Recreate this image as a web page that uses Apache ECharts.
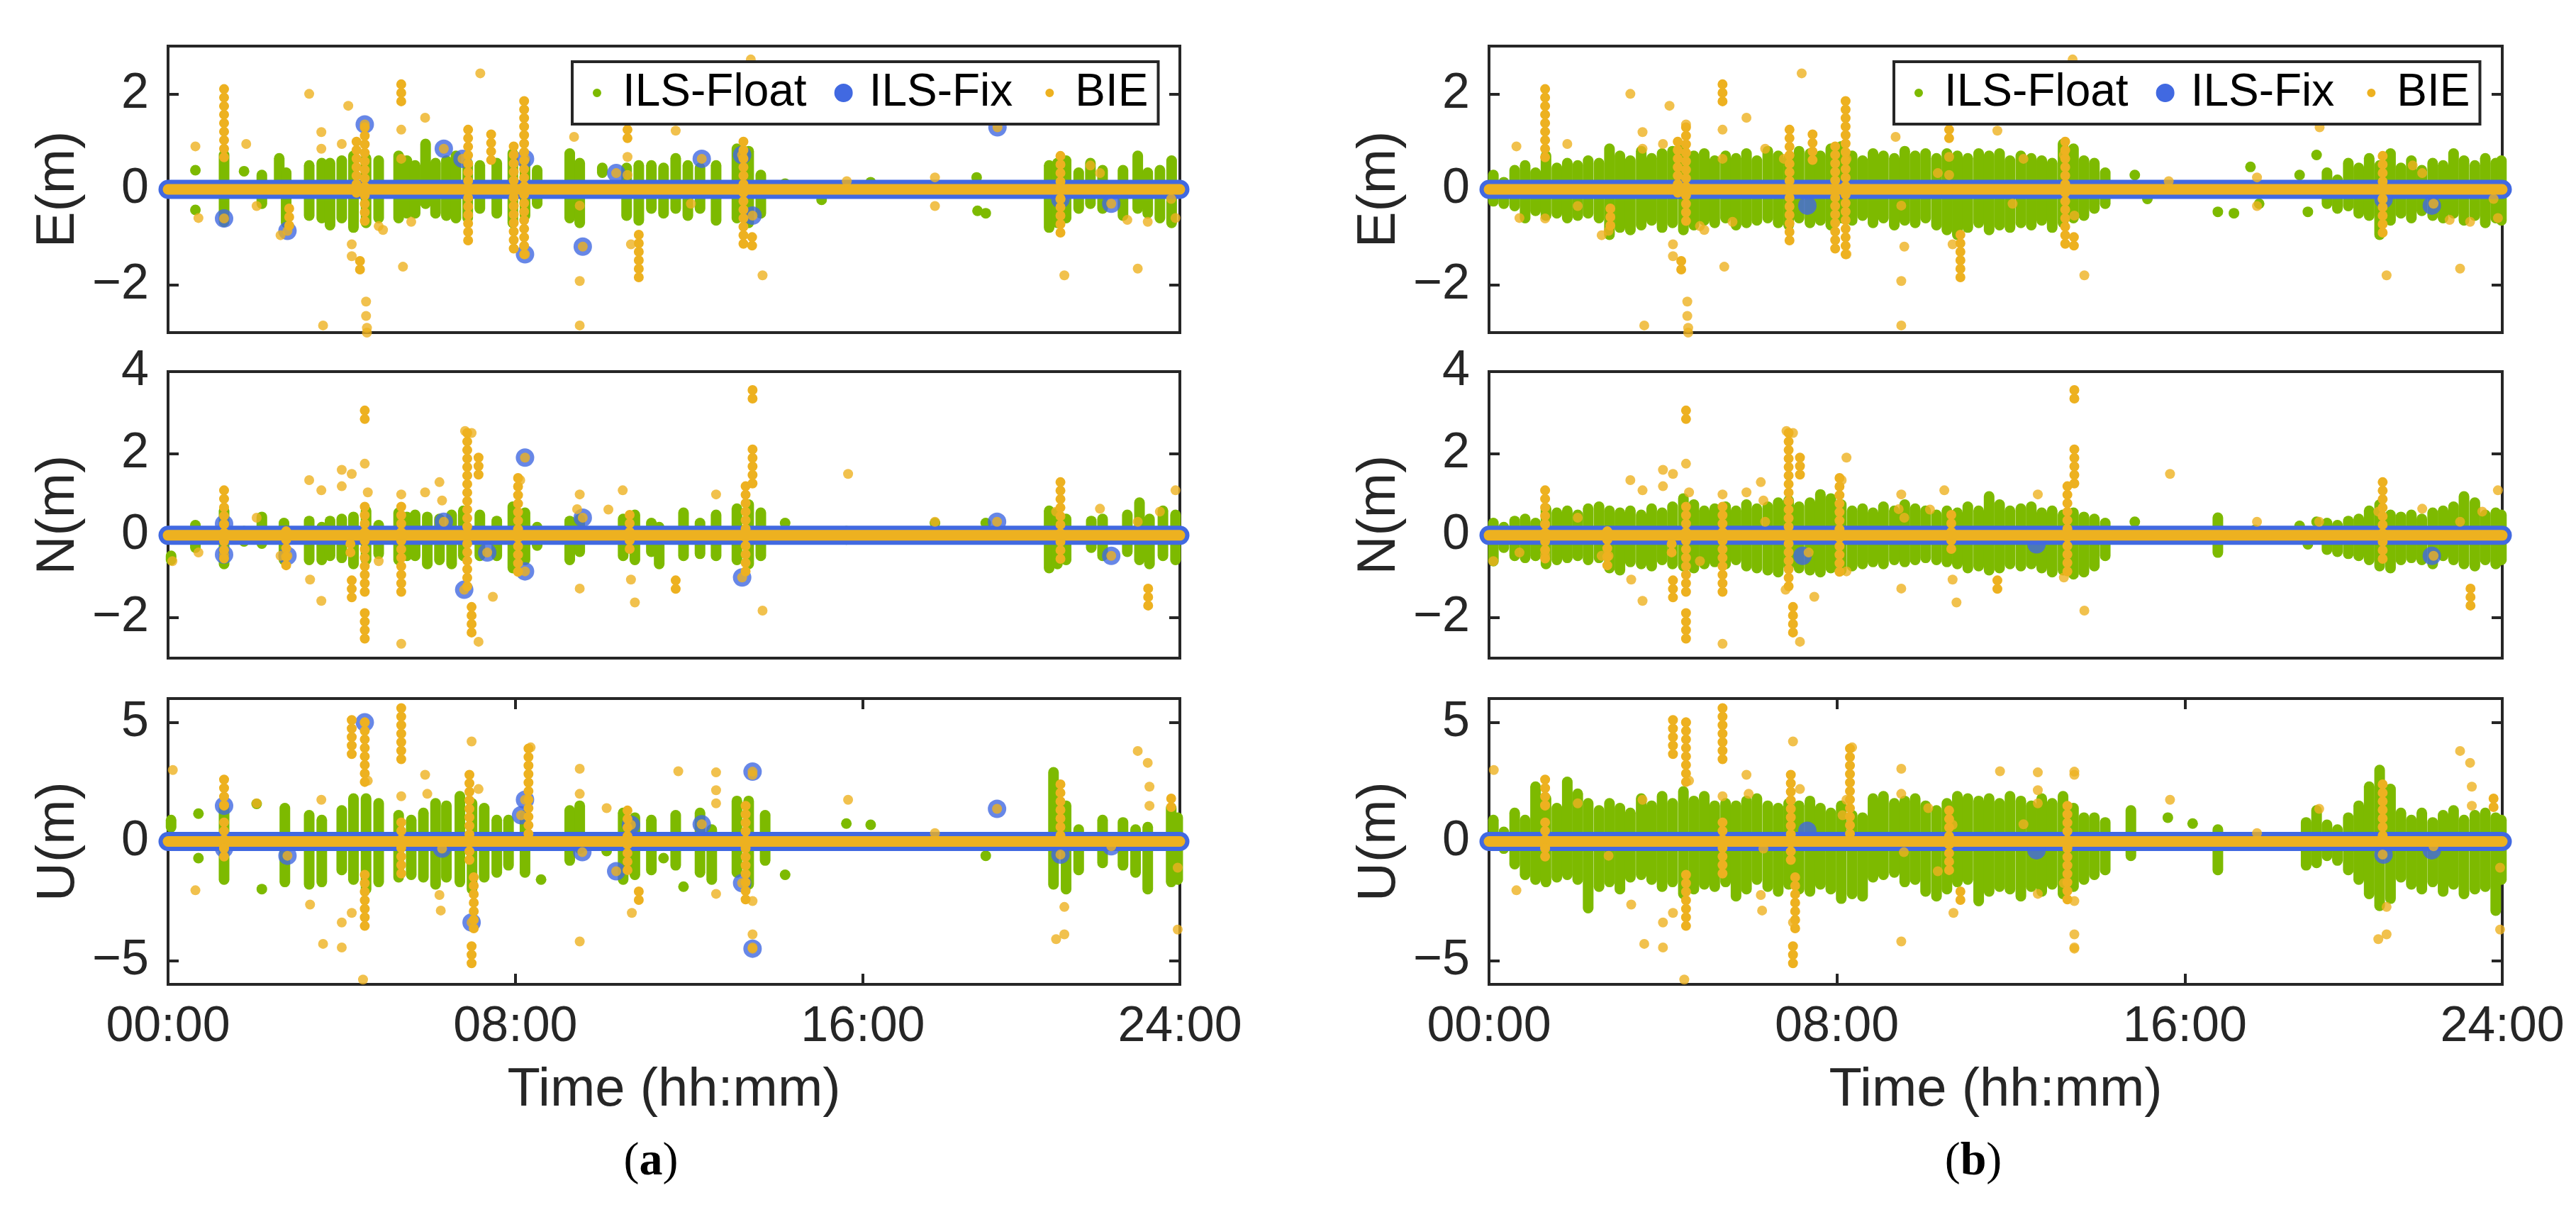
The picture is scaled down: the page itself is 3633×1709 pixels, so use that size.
<!DOCTYPE html>
<html>
<head>
<meta charset="utf-8">
<title>ILS-Float / ILS-Fix / BIE position errors</title>
<script src="https://cdn.jsdelivr.net/npm/echarts@6/dist/echarts.min.js"></script>
<style>
  html, body { margin: 0; padding: 0; background: #fff; }
  #main { width: 3633px; height: 1709px; }
</style>
</head>
<body>
<div id="main"></div>
<script>
// ---------- data: time in hours, errors in metres ----------
var timeTicks = [0, 8, 16, 23.3];
var timeLabels = ['00:00', '08:00', '16:00', '24:00'];
var yTicksE = [-2, 0, 2];
var yTicksN = [-2, 0, 2, 4];
var yTicksU = [-5, 0, 5];

// continuous fixed / BIE solutions sitting on zero
var zeroLine = [[0, 0], [23.3, 0]];

// (a) ILS-Float stacks: [time, low, high]
var floatColsAE = [[0.63,0.4,0.4],[0.63,-0.43,-0.43],[1.29,-0.68,0.72],[1.75,0.38,0.38],[2.16,-0.3,0.3],[2.56,0,0.65],[2.72,-0.7,0.35],[3.25,-0.55,0.5],[3.54,-0.6,0.55],[3.73,-0.75,0.55],[4.0,-0.6,0.6],[4.27,-0.8,0.7],[4.56,-0.7,0.65],[4.85,-0.6,0.6],[5.31,-0.6,0.7],[5.5,-0.5,0.6],[5.69,-0.5,0.5],[5.93,-0.3,0.95],[6.16,-0.5,0.55],[6.41,-0.55,0.6],[6.63,-0.6,0.7],[6.9,-0.6,0.55],[7.18,-0.4,0.5],[7.57,-0.5,0.55],[7.94,-0.7,0.75],[8.22,-0.55,0.6],[8.5,-0.3,0.4],[9.25,-0.6,0.75],[9.48,-0.7,0.55],[10.0,0.35,0.45],[10.56,-0.55,0.45],[10.84,-0.65,0.5],[11.13,-0.4,0.5],[11.41,-0.5,0.45],[11.69,-0.4,0.65],[11.97,-0.55,0.5],[12.25,-0.4,0.45],[12.62,-0.65,0.5],[13.1,-0.6,0.85],[13.37,-0.7,0.8],[13.65,-0.5,0.3],[14.21,0.12,0.12],[15.05,-0.22,-0.22],[16.18,0.15,0.15],[18.62,0.25,0.25],[18.64,-0.45,-0.45],[18.83,-0.5,-0.5],[20.29,-0.8,0.5],[20.48,-0.7,0.55],[20.68,-0.6,0.6],[20.97,-0.4,0.35],[21.24,-0.3,0.55],[21.52,-0.4,0.4],[21.99,-0.55,0.4],[22.33,-0.4,0.7],[22.56,-0.5,0.35],[22.84,-0.6,0.4],[23.11,-0.7,0.6]];
var floatColsAN = [[0.07,-0.6,-0.5],[0.63,-0.3,0.25],[1.29,-0.7,0.6],[1.75,-0.15,0.1],[2.16,-0.2,0.45],[2.67,-0.6,0.3],[3.25,-0.6,0.35],[3.54,-0.6,0.2],[3.73,-0.5,0.35],[4.0,-0.55,0.4],[4.27,-0.7,0.45],[4.56,-0.6,0.6],[4.85,-0.45,0.25],[5.31,-0.6,0.55],[5.5,-0.5,0.45],[5.69,-0.5,0.5],[5.97,-0.7,0.45],[6.25,-0.6,0.4],[6.53,-0.7,0.5],[6.8,-0.5,0.6],[7.18,-0.5,0.5],[7.57,-0.5,0.35],[7.94,-0.8,0.7],[8.22,-0.6,0.55],[8.5,-0.25,0.2],[9.25,-0.6,0.35],[9.48,-0.4,0.4],[10.48,-0.5,0.4],[10.75,-0.6,0.5],[11.13,-0.4,0.3],[11.31,-0.7,0.2],[11.87,-0.5,0.55],[12.25,-0.45,0.3],[12.62,-0.5,0.5],[13.1,-0.6,0.65],[13.37,-0.7,0.75],[13.65,-0.5,0.55],[14.21,0.3,0.3],[15.62,-0.1,0.1],[17.66,0.3,0.3],[18.83,0.3,0.3],[20.29,-0.8,0.6],[20.48,-0.7,0.55],[20.68,-0.6,0.4],[21.26,-0.3,0.35],[21.52,-0.5,0.4],[22.09,-0.4,0.5],[22.37,-0.6,0.8],[22.6,-0.7,0.4],[22.91,-0.5,0.6],[23.2,-0.6,0.5]];
var floatColsAU = [[0.07,0.6,0.9],[0.7,1.17,1.17],[0.7,-0.7,-0.7],[1.29,-1.6,1.5],[2.04,1.58,1.58],[2.16,-2.0,-2.0],[2.69,-1.7,1.4],[3.25,-1.8,1.1],[3.54,-1.7,0.9],[4.0,-1.2,1.3],[4.27,-1.6,1.8],[4.56,-2.0,1.8],[4.85,-1.7,1.6],[5.31,-1.5,1.1],[5.6,-1.4,0.9],[5.88,-1.5,1.2],[6.16,-1.8,1.6],[6.41,-1.5,1.5],[6.72,-1.7,1.9],[7.0,-2.0,1.6],[7.28,-1.5,1.4],[7.57,-1.3,0.9],[7.84,-1.0,0.9],[8.22,-1.3,1.1],[8.59,-1.6,-1.6],[9.25,-0.8,1.3],[9.48,-0.3,1.5],[10.1,-0.4,-0.4],[10.48,-1.6,1.2],[10.75,-1.4,1.0],[11.13,-1.2,0.9],[11.41,-0.7,-0.7],[11.69,-1.0,1.1],[11.87,-1.9,-1.9],[12.25,-1.3,1.2],[12.52,-1.6,0.5],[13.1,-1.3,1.7],[13.37,-1.8,1.7],[13.75,-0.8,1.1],[14.21,-1.4,-1.4],[15.62,0.75,0.75],[16.18,0.7,0.7],[18.83,-0.6,-0.6],[20.39,-1.8,2.9],[20.68,-2.0,1.5],[20.97,-1.2,0.5],[21.52,-0.9,0.9],[21.99,-1.0,0.8],[22.28,-1.3,0.5],[22.56,-2.0,0.6],[23.1,-1.7,1.4],[23.25,-1.6,1.0]];

// (a) ILS-Fix outliers: [time, value]
var fixPtsAE = [[1.29,-0.61],[2.75,-0.87],[4.53,1.36],[6.35,0.85],[6.78,0.64],[8.22,0.64],[8.22,-1.36],[9.55,-1.2],[10.32,0.34],[12.29,0.64],[13.22,0.72],[13.46,-0.55],[19.1,1.3],[20.55,-0.21],[21.72,-0.3]];
var fixPtsAN = [[1.29,0.28],[1.29,-0.47],[2.75,-0.5],[6.35,0.33],[6.82,-1.33],[7.35,-0.42],[8.22,1.9],[8.22,-0.88],[9.55,0.43],[13.22,-1.03],[19.09,0.33],[21.72,-0.5]];
var fixPtsAU = [[1.29,1.5],[1.29,-0.3],[2.75,-0.6],[4.53,5.0],[6.31,-0.3],[6.99,-3.4],[8.22,1.75],[8.13,1.1],[9.54,-0.45],[10.32,-1.25],[10.66,0.7],[12.29,0.72],[13.22,-1.75],[13.46,2.93],[13.46,-4.5],[19.09,1.37],[20.55,-0.55],[21.72,-0.2]];

// (b) ILS-Float dense band: shared times, low / high edges per component
var bandTimesB = [0.1,0.34,0.59,0.83,1.07,1.31,1.56,1.8,2.04,2.28,2.53,2.77,3.01,3.25,3.5,3.74,3.98,4.22,4.47,4.71,4.95,5.19,5.44,5.68,5.92,6.16,6.41,6.65,6.89,7.13,7.38,7.62,7.86,8.1,8.35,8.59,8.83,9.07,9.32,9.56,9.8,10.04,10.29,10.53,10.77,11.01,11.26,11.5,11.74,11.98,12.23,12.47,12.71,12.95,13.2,13.44,13.68,13.92,14.17,
  19.27,19.51,19.76,20.0,20.24,20.48,20.73,20.97,21.21,21.45,21.7,21.94,22.18,22.42,22.67,22.91,23.15,23.28];
var floatLoBE = [-0.25,-0.3,-0.35,-0.6,-0.45,-0.55,-0.5,-0.6,-0.55,-0.5,-0.6,-0.95,-0.8,-0.85,-0.75,-0.65,-0.8,-0.7,-0.85,-0.75,-0.65,-0.7,-0.6,-0.75,-0.7,-0.65,-0.6,-0.7,-0.75,-0.6,-0.7,-0.65,-0.75,-0.6,-0.65,-0.55,-0.7,-0.6,-0.75,-0.65,-0.7,-0.6,-0.75,-0.85,-0.95,-0.8,-0.7,-0.85,-0.75,-0.8,-0.7,-0.75,-0.65,-0.8,-0.7,-0.6,-0.55,-0.4,-0.3,
  -0.3,-0.4,-0.35,-0.5,-0.55,-0.95,-0.65,-0.5,-0.6,-0.45,-0.55,-0.6,-0.5,-0.65,-0.55,-0.7,-0.6,-0.65];
var floatHiBE = [0.3,0.15,0.4,0.5,0.35,0.7,0.45,0.55,0.5,0.6,0.55,0.85,0.7,0.6,0.8,0.65,0.75,0.8,0.9,0.7,0.75,0.6,0.7,0.65,0.75,0.6,0.8,0.7,0.65,0.8,0.75,0.7,0.85,0.9,0.7,0.6,0.75,0.7,0.65,0.8,0.7,0.75,0.65,0.75,0.7,0.65,0.75,0.7,0.75,0.6,0.7,0.65,0.6,0.55,0.95,0.85,0.6,0.55,0.35,
  0.35,0.2,0.55,0.45,0.65,0.5,0.75,0.45,0.6,0.4,0.55,0.5,0.75,0.6,0.5,0.65,0.55,0.6];
var floatLoBN = [-0.63,-0.3,-0.5,-0.55,-0.5,-0.7,-0.6,-0.55,-0.5,-0.6,-0.55,-0.8,-0.85,-0.65,-0.7,-0.75,-0.6,-0.7,-0.75,-0.8,-0.7,-0.65,-0.7,-0.6,-0.75,-0.8,-0.85,-0.9,-0.75,-0.8,-0.85,-0.9,-0.8,-0.85,-0.75,-0.7,-0.65,-0.7,-0.6,-0.65,-0.6,-0.55,-0.6,-0.65,-0.7,-0.8,-0.75,-0.85,-0.8,-0.7,-0.75,-0.7,-0.8,-0.9,-0.85,-0.95,-0.9,-0.75,-0.5,
  -0.35,-0.4,-0.45,-0.5,-0.6,-0.75,-0.8,-0.6,-0.55,-0.6,-0.7,-0.5,-0.6,-0.7,-0.75,-0.6,-0.7,-0.6];
var floatHiBN = [0.3,0.2,0.35,0.4,0.3,0.65,0.55,0.6,0.5,0.65,0.7,0.6,0.55,0.6,0.5,0.65,0.55,0.7,0.9,0.75,0.6,0.65,0.7,0.6,0.75,0.65,0.7,0.8,0.85,0.7,0.8,1.0,0.9,0.75,0.6,0.65,0.55,0.7,0.6,0.75,0.65,0.6,0.5,0.6,0.55,0.7,0.6,0.95,0.75,0.6,0.65,0.7,0.55,0.6,0.5,0.55,0.45,0.4,0.3,
  0.3,0.25,0.35,0.4,0.6,0.75,0.5,0.45,0.5,0.4,0.55,0.6,0.7,0.95,0.8,0.5,0.55,0.5];
var floatLoBU = [0.5,-0.3,-0.95,-1.4,-1.6,-1.7,-1.5,-1.4,-1.6,-2.8,-1.9,-1.7,-2.0,-1.5,-1.4,-1.6,-1.9,-1.7,-2.2,-2.0,-1.8,-1.9,-1.7,-2.3,-2.0,-1.6,-1.9,-2.1,-1.8,-2.0,-2.1,-1.8,-2.0,-2.4,-2.2,-2.3,-1.5,-1.4,-1.3,-1.7,-1.6,-2.1,-2.3,-2.0,-1.7,-1.6,-2.5,-2.1,-1.9,-2.0,-2.3,-1.9,-2.1,-1.8,-2.2,-1.9,-1.6,-1.4,-1.2,
  -0.6,-0.8,-1.2,-1.6,-2.2,-2.7,-2.4,-1.5,-1.8,-2.0,-1.7,-2.1,-1.8,-2.2,-2.0,-1.9,-2.9,-1.6];
var floatHiBU = [0.9,0.4,1.2,0.9,2.3,1.8,1.4,2.5,2.0,1.6,1.3,1.6,1.4,1.2,1.8,1.5,1.9,1.6,2.1,1.7,1.9,1.5,1.6,1.5,1.7,1.8,1.5,1.4,1.6,1.5,1.7,1.4,1.2,1.5,1.1,1.0,1.8,1.9,1.6,1.7,1.8,1.5,1.3,1.6,1.9,1.8,1.7,1.8,1.6,1.9,1.7,1.5,1.8,1.6,1.9,1.4,1.0,1.0,0.8,
  0.7,0.5,1.0,1.5,2.3,3.0,2.2,1.2,0.9,1.2,0.8,1.1,1.3,0.9,1.1,1.2,1.0,0.9];
// (b) isolated ILS-Float points in the quiet afternoon: [time, low, high]
var floatSparseBE = [[14.85,0.3,0.3],[15.14,-0.2,-0.2],[16.76,-0.47,-0.47],[17.13,-0.5,-0.5],[17.51,0.47,0.47],[17.71,-0.3,-0.3],[18.64,0.3,0.3],[18.83,-0.47,-0.47],[19.03,0.72,0.72]];
var floatSparseBN = [[14.85,0.33,0.33],[16.76,-0.42,0.43],[17.61,0.13,0.13],[18.64,0.23,0.23],[18.83,-0.22,-0.22],[19.03,0.33,0.33]];
var floatSparseBU = [[14.76,-0.6,1.3],[15.61,1.0,1.0],[16.18,0.75,0.75],[16.76,-1.2,0.5],[18.79,-1.0,0.8],[19.03,-0.9,1.3]];

// (b) ILS-Fix outliers
var fixPtsBE = [[7.32,-0.34],[20.57,-0.21],[21.68,-0.34]];
var fixPtsBN = [[7.21,-0.5],[12.59,-0.22],[21.68,-0.5]];
var fixPtsBU = [[7.32,0.45],[12.59,-0.37],[20.57,-0.55],[21.68,-0.37]];

// BIE (same solution in both columns): runs of dots [time, low, high] and single dots [time, value]
var bieColsE = [[1.29,0.55,2.1],[2.79,-0.8,-0.4],[4.34,-0.1,1.0],[4.42,-1.7,-1.5],[4.53,-0.7,1.3],[5.37,1.7,2.2],[6.91,-1.15,1.25],[7.44,0.6,1.15],[7.96,-1.3,0.9],[8.2,-1.5,1.85],[10.58,0.9,1.25],[10.84,-2.0,-0.95],[13.25,-1.3,1.0],[13.45,-1.3,-1.0],[20.55,-0.95,0.7]];
var biePtsE = [[0.63,0.9],[0.7,-0.6],[1.8,0.95],[2.04,-0.35],[2.59,-0.96],[3.25,2.0],[3.53,1.2],[3.53,0.85],[3.57,-2.85],[4.0,0.95],[4.15,1.75],[4.23,-1.15],[4.23,-1.4],[4.56,-2.35],[4.56,-2.65],[4.58,-2.9],[4.58,-3.0],[4.85,-0.77],[4.95,-0.85],[5.37,1.25],[5.37,0.64],[5.41,-1.62],[5.6,-0.68],[5.92,1.5],[7.19,2.43],[9.35,1.1],[9.48,-0.34],[9.48,-1.92],[9.48,-2.85],[10.58,0.68],[10.58,0.3],[10.66,-1.15],[11.69,1.23],[12.04,-0.3],[13.42,2.72],[13.69,-1.8],[15.63,0.17],[17.66,0.25],[17.66,-0.35],[20.64,-1.8],[21.24,0.5],[21.46,0.34],[22.09,-0.64],[22.33,-1.66],[22.56,-0.68],[23.1,-0.2],[23.2,-0.6],
  // BIE dots sitting inside the ILS-Fix circles
  [1.29,-0.61],[2.75,-0.87],[4.53,1.36],[6.35,0.85],[6.78,0.64],[8.22,0.64],[8.22,-1.36],[9.55,-1.2],[10.32,0.34],[12.29,0.64],[13.22,0.72],[13.46,-0.55],[19.1,1.3],[20.55,-0.21],[21.72,-0.3]];
var bieColsN = [[1.29,-0.7,1.1],[2.72,-0.8,0.1],[4.23,-1.6,-1.1],[4.2,-0.6,0.0],[4.53,2.75,3.05],[4.53,-1.5,0.7],[4.53,-2.65,-1.9],[5.37,-1.4,0.7],[6.89,-1.3,2.5],[6.99,-2.4,-1.75],[7.15,1.3,1.9],[8.06,-1.0,1.4],[10.63,-0.4,0.5],[11.69,-1.5,-1.1],[13.3,-0.9,1.2],[13.46,3.2,3.55],[13.46,1.25,2.1],[20.55,-0.7,1.3],[22.57,-1.8,-1.3]];
var biePtsN = [[0.1,-0.63],[0.7,-0.42],[2.04,0.43],[2.59,-0.5],[3.25,1.35],[3.27,-1.08],[3.53,1.1],[3.53,-1.6],[4.0,1.6],[4.0,1.2],[4.23,1.5],[4.53,1.75],[4.6,1.05],[4.85,-0.63],[5.37,1.0],[5.37,-2.65],[5.92,1.05],[6.25,1.3],[6.31,0.85],[6.84,2.55],[6.99,2.5],[7.15,-2.6],[7.48,-1.5],[8.11,1.35],[9.48,1.0],[9.48,-1.3],[9.42,0.64],[10.14,0.63],[10.47,1.1],[10.66,-1.08],[10.75,-1.64],[12.62,1.0],[13.69,-1.84],[15.66,1.5],[17.66,0.33],[20.45,0.58],[21.46,0.65],[22.33,0.33],[22.84,0.58],[23.2,1.1],
  [1.29,0.28],[1.29,-0.47],[2.75,-0.5],[6.35,0.33],[6.82,-1.33],[7.35,-0.42],[8.22,1.9],[8.22,-0.88],[9.55,0.43],[13.22,-1.03],[19.09,0.33],[21.72,-0.5]];
var bieColsU = [[1.29,1.5,2.6],[1.29,-0.8,0.8],[4.23,3.4,5.1],[4.53,2.3,5.0],[4.53,-3.9,-1.4],[5.37,3.3,5.6],[5.37,-1.7,0.8],[6.94,-1.0,2.8],[7.04,-3.9,-1.5],[6.99,-5.2,-4.4],[8.3,0.0,3.9],[10.58,-1.3,1.3],[10.84,-2.8,-2.1],[13.3,-2.6,1.5],[20.55,0.0,2.4],[23.1,1.1,1.8]];
var biePtsU = [[0.11,3.0],[0.63,-2.05],[2.04,1.6],[3.27,-2.65],[3.53,1.75],[3.57,-4.3],[4.0,-4.45],[4.0,-3.4],[4.23,-3.0],[4.49,-5.8],[4.6,2.55],[5.37,1.9],[5.92,2.8],[5.97,2.0],[6.25,-2.25],[6.28,-2.9],[6.99,4.2],[7.15,2.2],[8.35,3.95],[9.48,3.05],[9.48,2.0],[9.48,-4.2],[10.1,1.4],[10.68,-3.0],[11.75,2.95],[12.62,2.9],[12.62,2.15],[12.62,1.6],[12.62,-2.2],[13.46,2.8],[13.46,-2.5],[13.46,-3.9],[13.46,-4.45],[15.66,1.75],[17.66,0.35],[20.64,-2.75],[20.45,-4.1],[20.64,-3.9],[22.33,3.8],[22.56,3.3],[22.6,2.3],[22.6,1.5],[23.25,-3.7],[23.25,-1.1],
  [1.29,1.5],[1.29,-0.3],[2.75,-0.6],[4.53,5.0],[6.31,-0.3],[6.99,-3.4],[8.22,1.75],[8.13,1.1],[9.54,-0.45],[10.32,-1.25],[10.66,0.7],[12.29,0.72],[13.22,-1.75],[13.46,2.93],[13.46,-4.5],[19.09,1.37],[20.55,-0.55],[21.72,-0.2]];

// ---------- styling ----------
var C_FLOAT = '#7dba00', C_FIX = '#4169e1', C_BIE = '#edb120', C_AXIS = '#262626';
var FONT = 'Liberation Sans';

function zipCols(t, lo, hi) {
  return t.map(function (x, i) { return [x, lo[i], hi[i]]; });
}

// dense stack of dots: rounded bar from low to high
function barRenderer(color, w) {
  return function (params, api) {
    var top = api.coord([api.value(0), api.value(2)]);
    var bot = api.coord([api.value(0), api.value(1)]);
    return {
      type: 'rect',
      shape: { x: top[0] - w / 2, y: top[1] - w / 2, width: w, height: bot[1] - top[1] + w, r: w / 2 },
      style: { fill: color }
    };
  };
}

// looser run of dots: dotted vertical line from low to high
function dotRenderer(color, w, step) {
  return function (params, api) {
    var top = api.coord([api.value(0), api.value(2)]);
    var bot = api.coord([api.value(0), api.value(1)]);
    return {
      type: 'line',
      shape: { x1: top[0], y1: top[1], x2: bot[0], y2: bot[1] },
      style: { stroke: color, lineWidth: w, lineCap: 'round', lineDash: [0.01, step] }
    };
  };
}

var rows = [
  { top: 65,  bottom: 1240, min: -3, max: 3, ticks: yTicksE, name: 'E(m)' },
  { top: 524, bottom: 781,  min: -3, max: 4, ticks: yTicksN, name: 'N(m)' },
  { top: 985, bottom: 321,  min: -6, max: 6, ticks: yTicksU, name: 'U(m)' }
];
var cols = [
  { left: 237,  right: 1969, legendLeft: 807,  tag: 'a', tagX: 918 },
  { left: 2100, right: 104,  legendLeft: 2671, tag: 'b', tagX: 2783 }
];
var floatData = [
  [floatColsAE, floatColsAN, floatColsAU],
  [zipCols(bandTimesB, floatLoBE, floatHiBE).concat(floatSparseBE),
   zipCols(bandTimesB, floatLoBN, floatHiBN).concat(floatSparseBN),
   zipCols(bandTimesB, floatLoBU, floatHiBU).concat(floatSparseBU)]
];
var fixData = [[fixPtsAE, fixPtsAN, fixPtsAU], [fixPtsBE, fixPtsBN, fixPtsBU]];
var bieCols = [bieColsE, bieColsN, bieColsU];
var biePts = [biePtsE, biePtsN, biePtsU];

var grids = [], xAxes = [], yAxes = [], series = [];
var tickStyle = { color: C_AXIS, width: 4 };
var noLine = { show: false, onZero: false };

cols.forEach(function (c, ci) {
  rows.forEach(function (r, ri) {
    var gi = grids.length;
    var isU = ri === 2;
    grids.push({ left: c.left, right: c.right, top: r.top, bottom: r.bottom,
      show: true, borderColor: C_AXIS, borderWidth: 4 });
    xAxes.push({
      type: 'value', gridIndex: gi, min: 0, max: 23.3, position: 'bottom',
      axisLine: noLine, splitLine: { show: false },
      axisTick: { show: isU, inside: true, length: 15, customValues: [8, 16], lineStyle: tickStyle },
      axisLabel: { show: isU, customValues: timeTicks, margin: 26, fontSize: 70, fontFamily: FONT, color: C_AXIS,
        formatter: function (v) { return timeLabels[timeTicks.indexOf(v)]; } },
      name: isU ? 'Time (hh:mm)' : '', nameLocation: 'middle', nameGap: 112,
      nameTextStyle: { fontSize: 76, fontFamily: FONT, color: C_AXIS }
    });
    xAxes.push({
      type: 'value', gridIndex: gi, min: 0, max: 23.3, position: 'top',
      axisLine: noLine, splitLine: { show: false }, axisLabel: { show: false },
      axisTick: { show: isU, inside: true, length: 15, customValues: [8, 16], lineStyle: tickStyle }
    });
    yAxes.push({
      type: 'value', gridIndex: gi, min: r.min, max: r.max, position: 'left',
      axisLine: noLine, splitLine: { show: false },
      axisTick: { inside: true, length: 15, customValues: r.ticks, lineStyle: tickStyle },
      axisLabel: { customValues: r.ticks, margin: 27, fontSize: 70, fontFamily: FONT, color: C_AXIS,
        formatter: function (v) { return v < 0 ? '\u2212' + Math.abs(v) : String(v); } },
      name: r.name, nameLocation: 'middle', nameGap: 116, nameRotate: 90,
      nameTextStyle: { fontSize: 76, fontFamily: FONT, color: C_AXIS }
    });
    yAxes.push({
      type: 'value', gridIndex: gi, min: r.min, max: r.max, position: 'right',
      axisLine: noLine, splitLine: { show: false }, axisLabel: { show: false },
      axisTick: { inside: true, length: 15, customValues: r.ticks, lineStyle: tickStyle }
    });

    var ax = { xAxisIndex: 2 * gi, yAxisIndex: 2 * gi };
    series.push(Object.assign({
      type: 'custom', name: 'ILS-Float', data: floatData[ci][ri], encode: { x: 0, y: [1, 2] },
      renderItem: barRenderer(C_FLOAT, 15), itemStyle: { color: C_FLOAT }, z: 2, silent: true
    }, ax));
    series.push(Object.assign({
      type: 'line', name: 'ILS-Fix', data: zeroLine, showSymbol: false, clip: false,
      lineStyle: { color: C_FIX, width: 27, cap: 'round' }, itemStyle: { color: C_FIX }, z: 3, silent: true
    }, ax));
    series.push(Object.assign({
      type: 'scatter', name: 'ILS-Fix', data: fixData[ci][ri], symbolSize: 26, clip: false,
      itemStyle: { color: C_FIX }, z: 3, silent: true
    }, ax));
    series.push(Object.assign({
      type: 'line', name: 'BIE', data: zeroLine, showSymbol: false, clip: false,
      lineStyle: { color: C_BIE, width: 15, cap: 'round' }, itemStyle: { color: C_BIE }, z: 4, silent: true
    }, ax));
    series.push(Object.assign({
      type: 'custom', name: 'BIE', data: bieCols[ri], encode: { x: 0, y: [1, 2] },
      renderItem: dotRenderer(C_BIE, 14, 12), itemStyle: { color: C_BIE }, z: 4, silent: true
    }, ax));
    series.push(Object.assign({
      type: 'scatter', name: 'BIE', data: biePts[ri], symbolSize: 14, clip: false,
      itemStyle: { color: C_BIE }, z: 4, silent: true
    }, ax));
  });
});

// legend icons drawn in a 62x36 box: small dot / large dot centred
var smallDot = 'path://M0,0h0.01v0.01h-0.01z M62,36h0.01v0.01h-0.01z M25,18a6,6 0 1,0 12,0a6,6 0 1,0 -12,0z';
var bigDot = 'path://M0,0h0.01v0.01h-0.01z M62,36h0.01v0.01h-0.01z M18,18a13,13 0 1,0 26,0a13,13 0 1,0 -26,0z';

var legends = cols.map(function (c) {
  return {
    left: c.legendLeft, top: 87, orient: 'horizontal', selectedMode: false,
    itemWidth: 62, itemHeight: 36, itemGap: 21, padding: [9, 14, 9, 4],
    backgroundColor: '#fff', borderColor: C_AXIS, borderWidth: 4, z: 20,
    textStyle: { fontSize: 64, fontFamily: FONT, color: '#000', lineHeight: 70 },
    data: [
      { name: 'ILS-Float', icon: smallDot, itemStyle: { color: C_FLOAT } },
      { name: 'ILS-Fix', icon: bigDot, itemStyle: { color: C_FIX } },
      { name: 'BIE', icon: smallDot, itemStyle: { color: C_BIE } }
    ]
  };
});

var tags = cols.map(function (c) {
  return {
    type: 'text', x: c.tagX, y: 1639, z: 20,
    style: {
      text: '{p|(}{b|' + c.tag + '}{p|)}', align: 'center', verticalAlign: 'middle',
      textAlign: 'center', textVerticalAlign: 'middle',
      rich: {
        p: { fontFamily: 'Liberation Serif', fontSize: 66, fill: '#000', color: '#000' },
        b: { fontFamily: 'Liberation Serif', fontSize: 66, fontWeight: 'bold', fill: '#000', color: '#000' }
      }
    }
  };
});

var chart = echarts.init(document.getElementById('main'));
chart.setOption({
  animation: false,
  backgroundColor: '#fff',
  grid: grids,
  xAxis: xAxes,
  yAxis: yAxes,
  legend: legends,
  graphic: tags,
  series: series
});
</script>
</body>
</html>
